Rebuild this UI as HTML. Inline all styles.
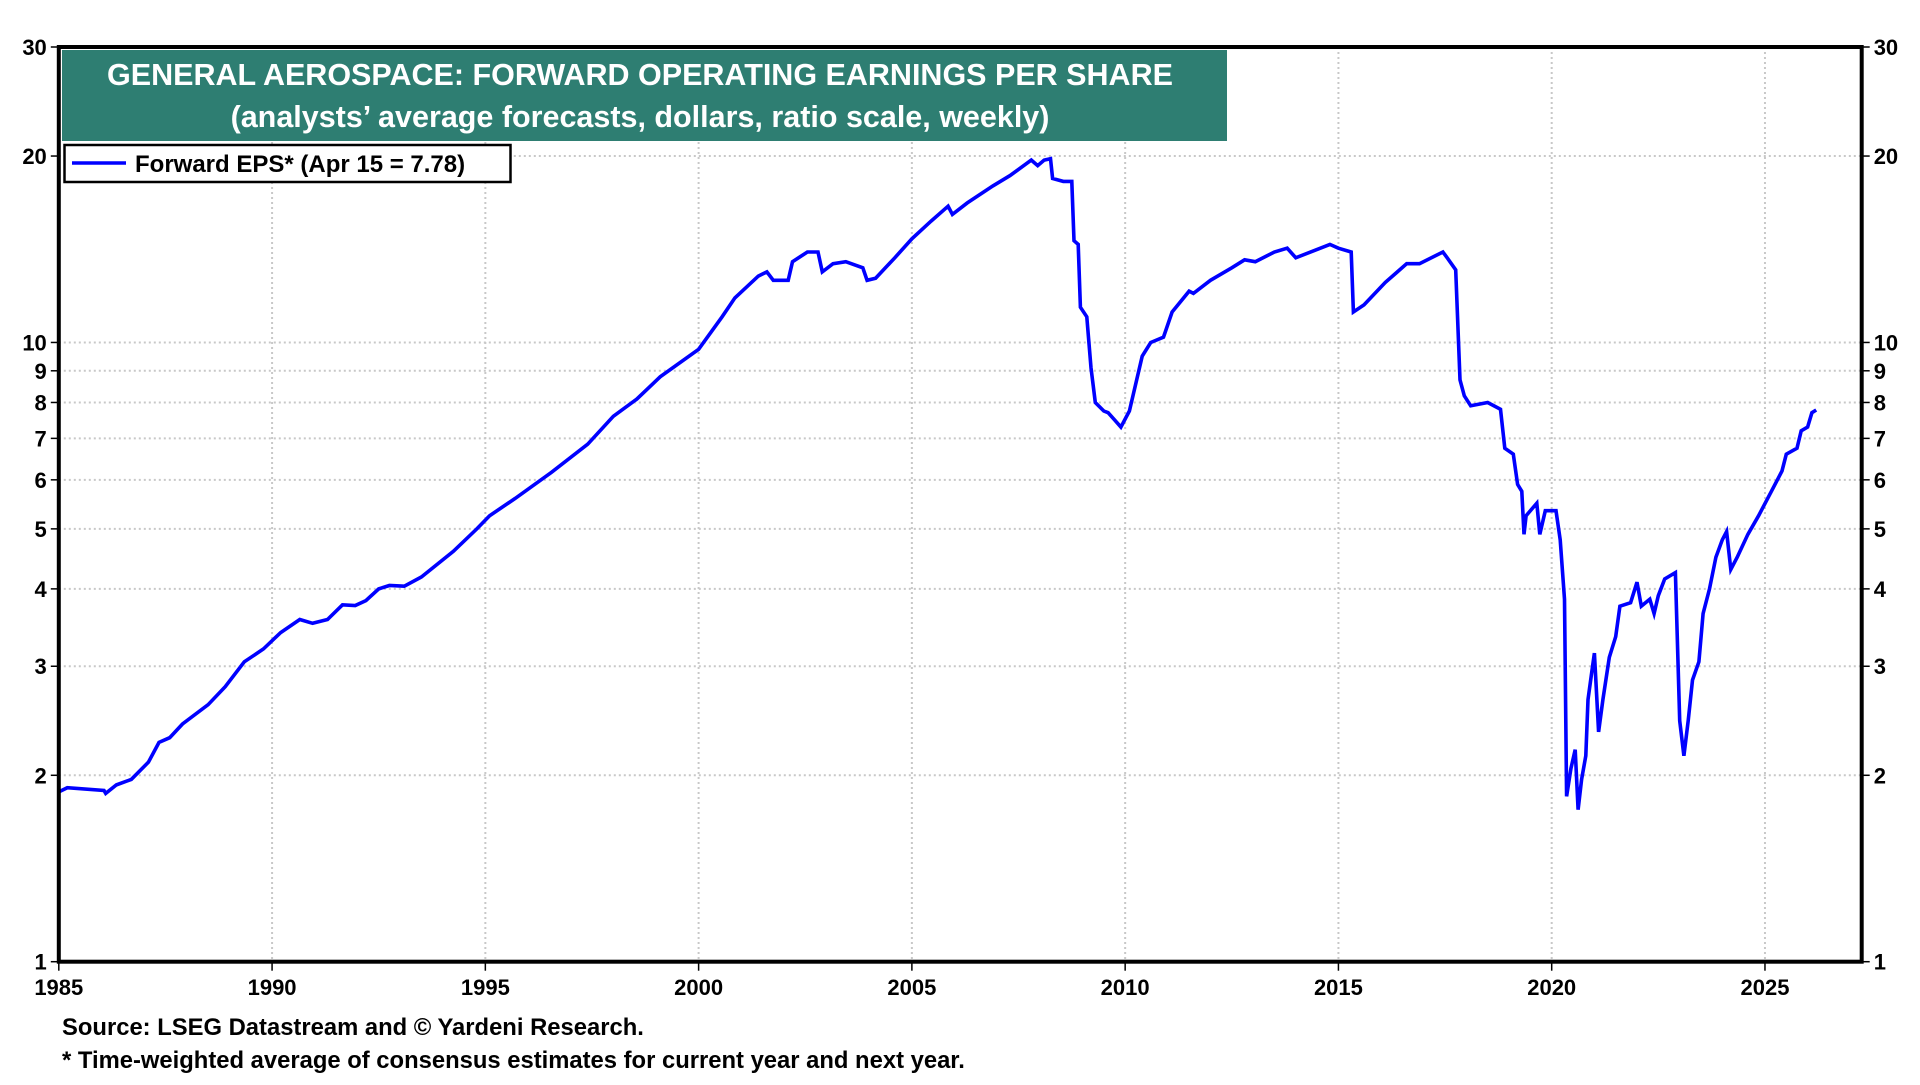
<!DOCTYPE html>
<html><head><meta charset="utf-8"><style>
html,body{margin:0;padding:0;background:#fff;}
svg text{font-family:"Liberation Sans",Arial,sans-serif;font-weight:bold;}
</style></head><body>
<svg id="chart" width="1920" height="1080" viewBox="0 0 1920 1080" xmlns="http://www.w3.org/2000/svg">
<rect x="0" y="0" width="1920" height="1080" fill="#fff"/>
<g id="grid"></g>
<g id="ticks"></g>
<path id="line" fill="none" stroke="#0000ff" stroke-width="3.6" stroke-linejoin="miter"/>
<rect x="58.8" y="47" width="1802.9" height="914.7" fill="none" stroke="#000" stroke-width="4"/>
<rect x="62" y="50" width="1165" height="91" fill="#2e7e72"/>
<text x="640" y="85" font-size="30.5" fill="#fff" text-anchor="middle">GENERAL AEROSPACE: FORWARD OPERATING EARNINGS PER SHARE</text>
<text x="640" y="127" font-size="30.5" fill="#fff" text-anchor="middle">(analysts’ average forecasts, dollars, ratio scale, weekly)</text>
<g>
<rect x="64.5" y="145" width="446" height="37" fill="#fff" stroke="#000" stroke-width="2.5"/>
<line x1="72" y1="163" x2="126" y2="163" stroke="#0000ff" stroke-width="3.5"/>
<text x="135" y="172" font-size="24" fill="#000">Forward EPS* (Apr 15 = 7.78)</text>
</g>
<text x="62" y="1035" font-size="23.8" fill="#000">Source: LSEG Datastream and © Yardeni Research.</text>
<text x="62" y="1068" font-size="23.8" fill="#000">* Time-weighted average of consensus estimates for current year and next year.</text>
</svg>
<script>
const years = [1985,1985.2,1986.06,1986.1,1986.35,1986.7,1987.1,1987.35,1987.6,1987.9,1988.5,1988.9,1989.35,1989.8,1990.2,1990.65,1990.95,1991.3,1991.65,1991.95,1992.2,1992.5,1992.75,1993.1,1993.5,1994.25,1994.8,1995.1,1995.7,1996.55,1997.4,1998.0,1998.55,1999.1,2000.0,2000.55,2000.85,2001.4,2001.6,2001.75,2002.1,2002.2,2002.55,2002.8,2002.9,2003.15,2003.45,2003.85,2003.95,2004.15,2004.6,2005.0,2005.45,2005.85,2005.95,2006.3,2006.9,2007.3,2007.8,2007.95,2008.1,2008.25,2008.3,2008.55,2008.75,2008.8,2008.9,2008.95,2009.1,2009.2,2009.3,2009.5,2009.6,2009.75,2009.9,2010.1,2010.2,2010.4,2010.6,2010.9,2011.1,2011.5,2011.6,2012.0,2012.5,2012.8,2013.05,2013.5,2013.8,2014.0,2014.8,2015.0,2015.3,2015.35,2015.6,2016.1,2016.6,2016.9,2017.45,2017.55,2017.75,2017.85,2017.95,2018.1,2018.5,2018.8,2018.9,2019.1,2019.2,2019.3,2019.35,2019.4,2019.65,2019.72,2019.85,2020.1,2020.2,2020.3,2020.35,2020.45,2020.55,2020.62,2020.7,2020.8,2020.85,2020.95,2021.0,2021.1,2021.2,2021.35,2021.5,2021.6,2021.85,2022.0,2022.1,2022.3,2022.4,2022.5,2022.65,2022.9,2023.0,2023.1,2023.2,2023.3,2023.45,2023.55,2023.7,2023.85,2024.0,2024.1,2024.2,2024.35,2024.6,2024.85,2025.15,2025.4,2025.5,2025.75,2025.85,2026.0,2026.1,2026.2];
const eps = [1.88,1.91,1.89,1.87,1.93,1.97,2.1,2.26,2.3,2.42,2.6,2.78,3.05,3.2,3.4,3.57,3.52,3.57,3.77,3.76,3.83,4.0,4.05,4.04,4.18,4.6,5.0,5.25,5.6,6.17,6.85,7.6,8.1,8.8,9.75,11.0,11.8,12.8,13.0,12.6,12.6,13.5,14.0,14.0,13.0,13.4,13.5,13.2,12.6,12.7,13.7,14.7,15.7,16.6,16.1,16.8,17.9,18.6,19.7,19.3,19.7,19.8,18.4,18.2,18.2,14.6,14.4,11.4,11.0,9.1,8.0,7.75,7.7,7.5,7.3,7.75,8.3,9.5,10.0,10.2,11.2,12.1,12.0,12.6,13.2,13.6,13.5,14.0,14.2,13.7,14.4,14.2,14.0,11.2,11.5,12.5,13.4,13.4,14.0,13.7,13.1,8.7,8.2,7.9,8.0,7.8,6.75,6.6,5.9,5.75,4.9,5.25,5.5,4.9,5.35,5.35,4.8,3.85,1.85,2.05,2.2,1.76,1.97,2.15,2.65,2.97,3.15,2.35,2.65,3.1,3.35,3.75,3.8,4.1,3.75,3.85,3.65,3.9,4.15,4.25,2.45,2.15,2.45,2.85,3.05,3.65,4.0,4.5,4.8,4.95,4.3,4.5,4.9,5.25,5.75,6.2,6.6,6.75,7.2,7.3,7.7,7.78];
const yTicks = [1,2,3,4,5,6,7,8,9,10,20,30];
const gridVals = [2,3,4,5,6,7,8,9,10,20];
const xTicks = [1985,1990,1995,2000,2005,2010,2015,2020,2025];

const L=58.8,R=1861.7,T=47,B=961.7;
const X0=1985, PX_PER_YEAR=(1551.7-L)/35;
function xs(t){return L+(t-X0)*PX_PER_YEAR;}
function ys(v){return B-(Math.log10(v)/Math.log10(30))*(B-T);}
const NS="http://www.w3.org/2000/svg";
const grid=document.getElementById('grid'), ticks=document.getElementById('ticks');
function mk(tag,attrs,parent){const e=document.createElementNS(NS,tag);for(const k in attrs)e.setAttribute(k,attrs[k]);parent.appendChild(e);return e;}
gridVals.forEach(v=>{
  const g=mk('line',{x1:L,x2:R,y1:ys(v),y2:ys(v),stroke:'#c8c8c8','stroke-width':2,'stroke-dasharray':'2 3'},grid);
  
  
});
xTicks.slice(1).forEach(t=>{
  const g=mk('line',{x1:xs(t),x2:xs(t),y1:T,y2:B,stroke:'#c8c8c8','stroke-width':2,'stroke-dasharray':'2 3'},grid);
  
  
});
yTicks.forEach(v=>{
  const y=ys(v);
  mk('line',{x1:L-8,x2:L,y1:y,y2:y,stroke:'#000','stroke-width':1.5},ticks);
  mk('line',{x1:R,x2:R+8,y1:y,y2:y,stroke:'#000','stroke-width':1.5},ticks);
  const a=mk('text',{x:L-12,y:y+8,'font-size':22,'text-anchor':'end',fill:'#000'},ticks);
  a.textContent=v;
  
  
  const b=mk('text',{x:R+12,y:y+8,'font-size':22,'text-anchor':'start',fill:'#000'},ticks);
  b.textContent=v;
  
  
});
xTicks.forEach(t=>{
  const x=xs(t);
  mk('line',{x1:x,x2:x,y1:B,y2:B+9,stroke:'#000','stroke-width':1.5},ticks);
  const a=mk('text',{x:x,y:995,'font-size':22,'text-anchor':'middle',fill:'#000'},ticks);
  a.textContent=t;
  
  
});
let d='M'+xs(years[0]).toFixed(1)+' '+ys(eps[0]).toFixed(1);
for(let i=1;i<years.length;i++){d+=' L'+xs(years[i]).toFixed(1)+' '+ys(eps[i]).toFixed(1);}
document.getElementById('line').setAttribute('d',d);
</script>
</body></html>
